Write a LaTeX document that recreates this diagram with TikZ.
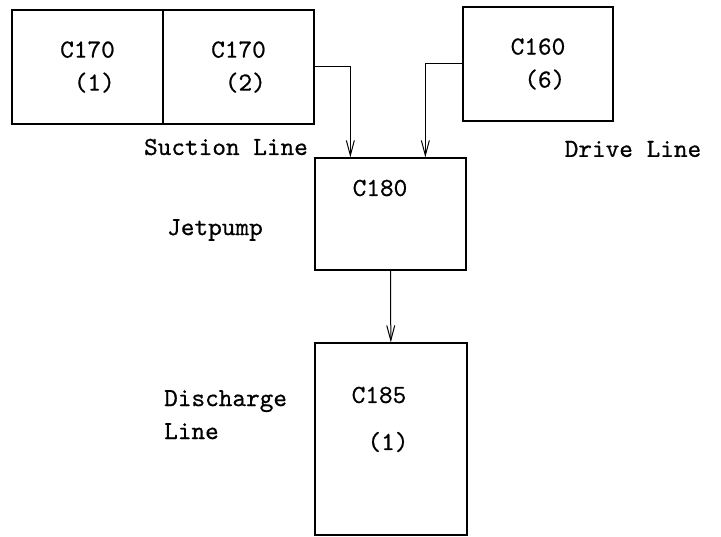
\documentclass[tikz,border=0pt]{standalone}
\usepackage{fontspec}
\newfontfamily\typew{lmmono10-regular.otf}[FakeBold=0.6]
\usepackage{tikz}
\usetikzlibrary{arrows.meta,positioning,calc}

\begin{document}
\begin{tikzpicture}[
            x=1pt, y=-1pt,
            block/.style={rectangle, draw, line width=1.3pt, inner sep=0pt},
            tag/.style={font=\fontsize{26}{33}\selectfont\typew, inner sep=0pt, align=left},
            arrow/.style={-{Straight Barb[length=15pt,width=8pt]}, line width=1pt}
        ]
            \useasboundingbox (0,0) rectangle (721,537);
            % Source blocks
            \node[block, tag, minimum width=151pt, minimum height=114pt] (c170a) at (87.5,67) {C170\\\ (1)};
            \node[block, tag, minimum width=151pt, minimum height=114pt] (c170b) at (238.5,67) {C170\\\ (2)};
            \node[block, tag, minimum width=150pt, minimum height=114pt] (c160) at (538,64) {C160\\\ (6)};
            
            % Jetpump and discharge
            \node[block, minimum width=151pt, minimum height=112pt] (c180) at (390.5,214) {};
            \node[block, minimum width=152pt, minimum height=192pt] (c185) at (391,439) {};
            \node[tag] (c180t) at (380,188) {C180};
            \node[tag] (c185t) at (379,395) {C185};
            \node[tag] (c185n) at (388,442) {(1)};
            
            % Line names
            \node[tag] (suction) at (226,147) {Suction Line};
            \node[tag] (drive) at (633,149) {Drive Line};
            \node[tag] (jet) at (215,230) {Jetpump};
            \node[tag, anchor=north west] (dis) at (164,390) {Discharge\\Line};
            
            % Arrows
            \coordinate (in1) at ($(c180.north west)+(36,0)$);
            \coordinate (in2) at ($(c180.north west)+(111,0)$);
            \draw[arrow] (c170b.east) -| (in1);
            \draw[arrow] (c160.west) -| (in2);
            \draw[arrow] (c180) -- (c185);
        \end{tikzpicture}
\end{document}
